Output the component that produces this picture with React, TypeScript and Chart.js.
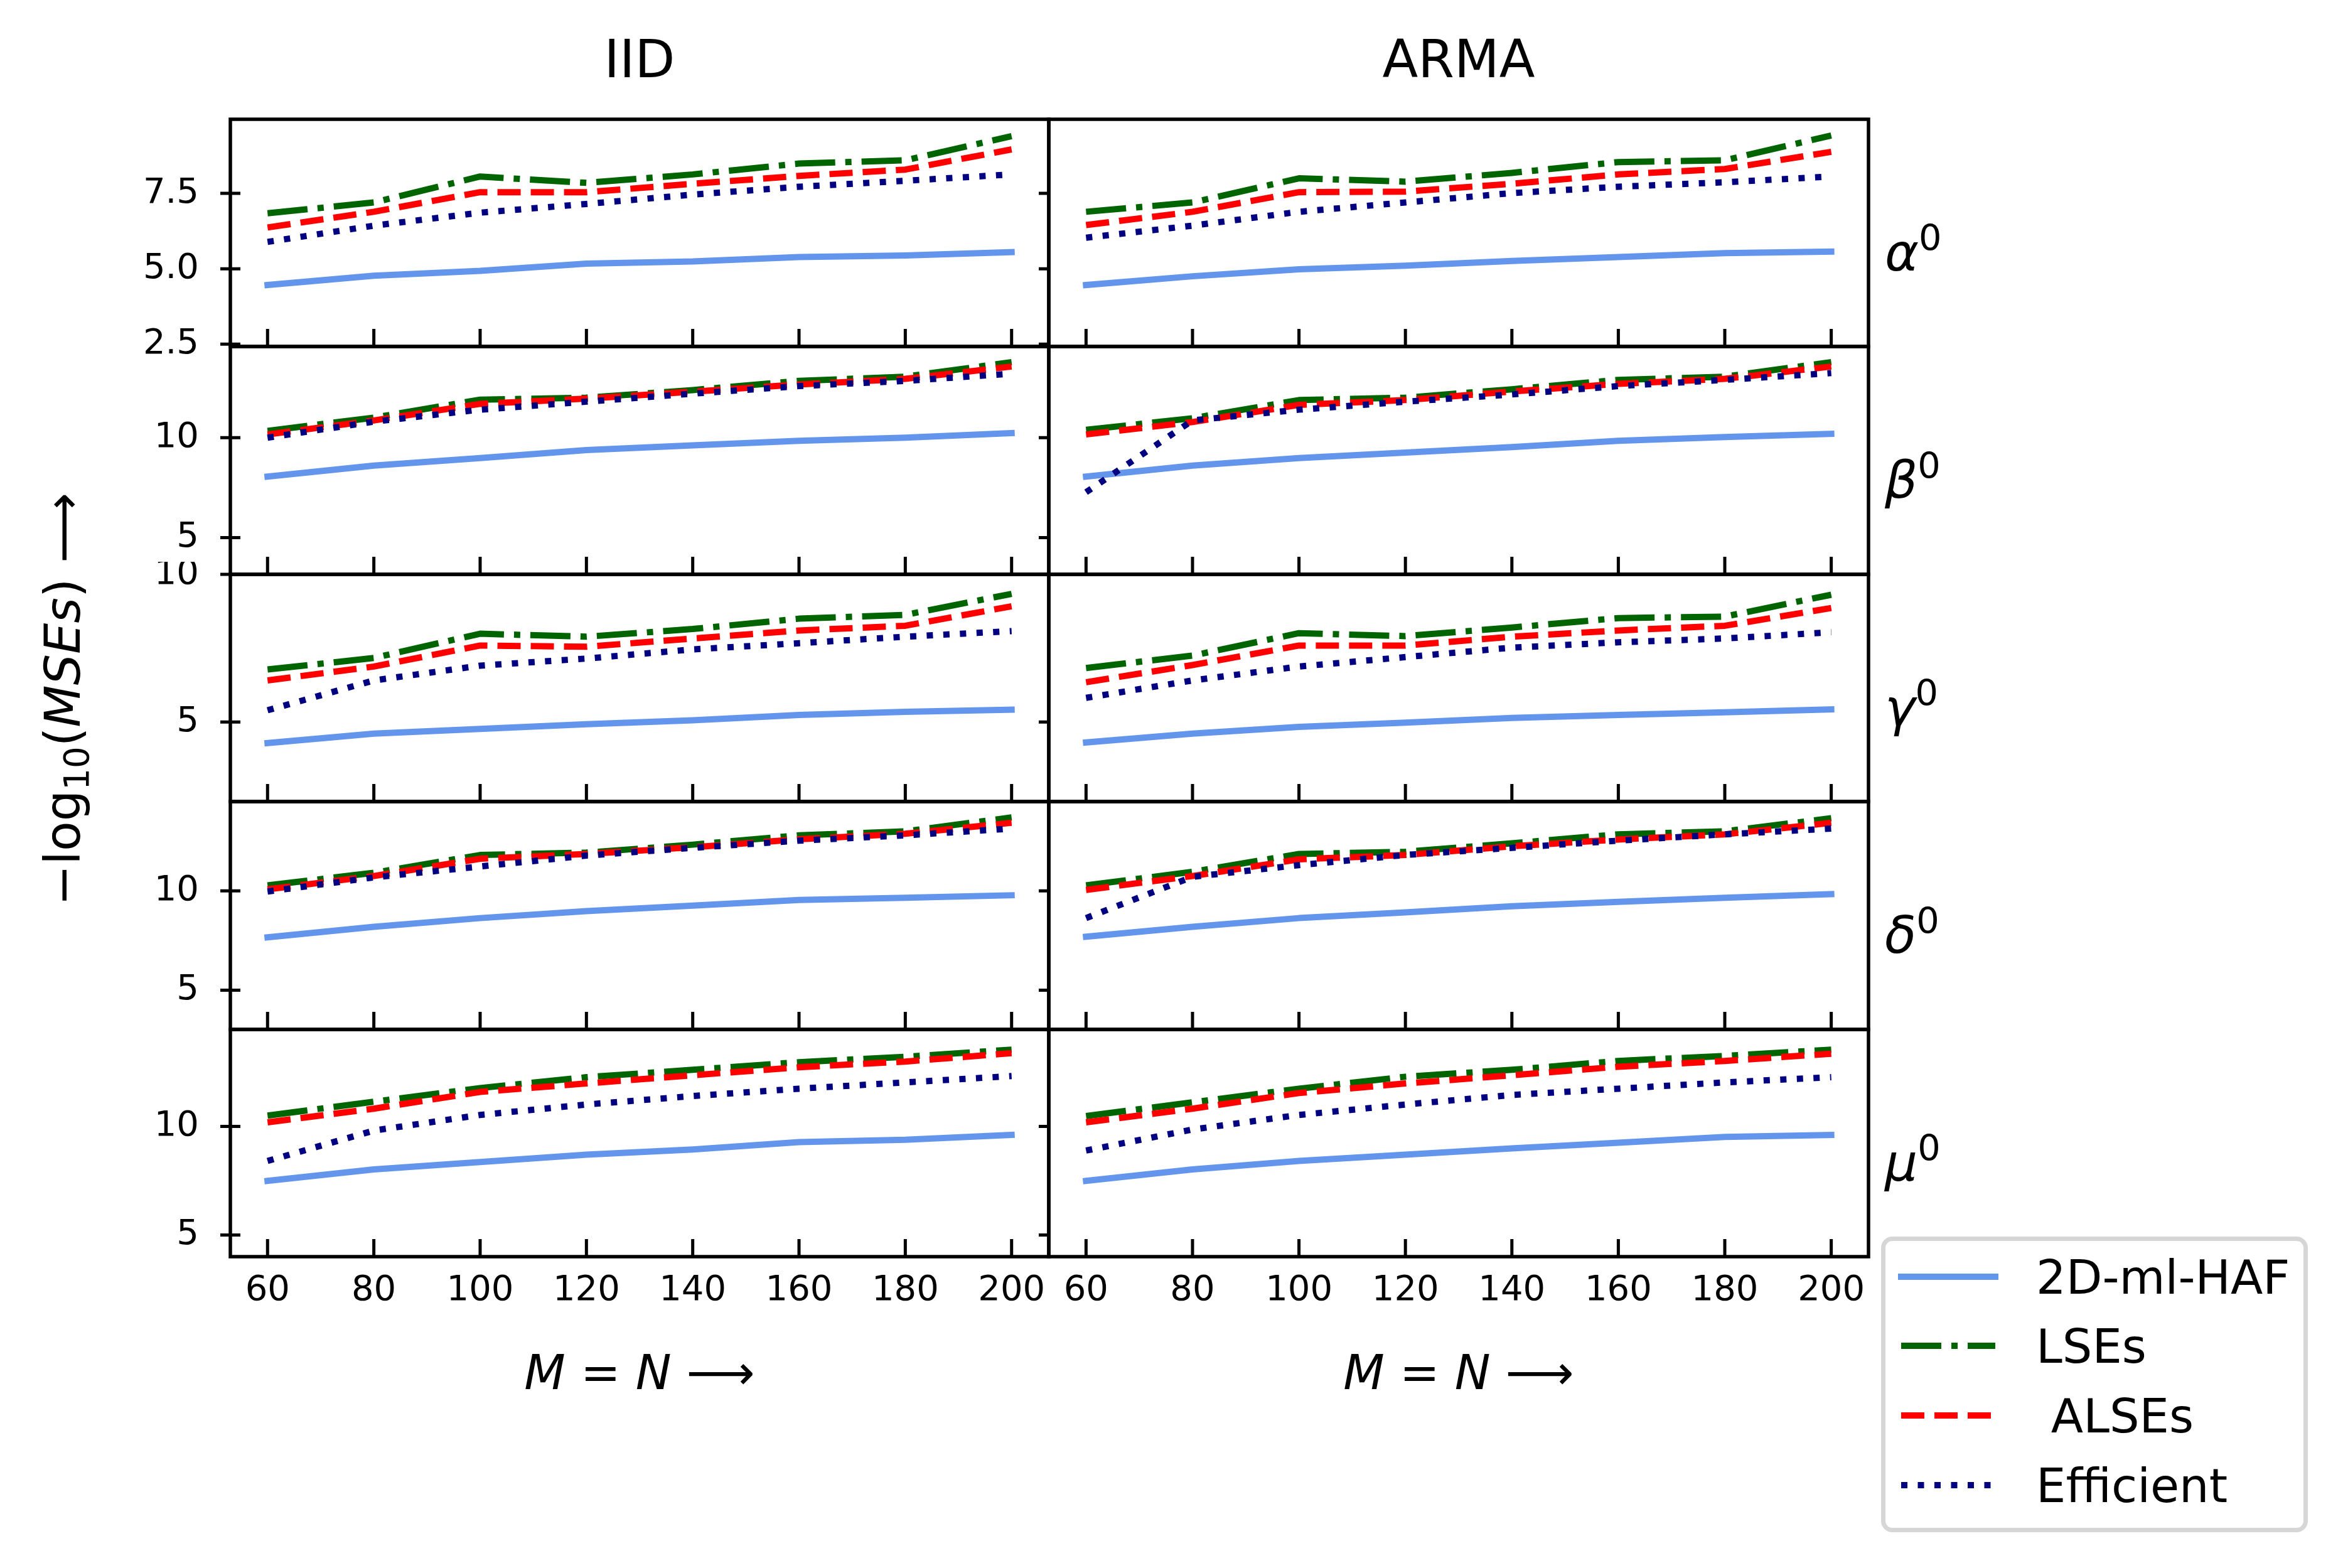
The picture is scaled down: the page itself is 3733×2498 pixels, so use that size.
import React, { useEffect, useRef } from 'react';
import Chart from 'chart.js/auto';

// sample sizes on the x axis
const sizes = [60, 80, 100, 120, 140, 160, 180, 200];

// -log10(MSE) values, IID errors
const iidAlphaHaf = [4.46, 4.77, 4.93, 5.17, 5.24, 5.39, 5.44, 5.55];
const iidAlphaLse = [6.84, 7.2, 8.06, 7.85, 8.13, 8.49, 8.6, 9.4];
const iidAlphaAlse = [6.37, 6.89, 7.54, 7.54, 7.82, 8.08, 8.29, 8.96];
const iidAlphaEff = [5.89, 6.43, 6.86, 7.15, 7.46, 7.72, 7.92, 8.13];

const iidBetaHaf = [8.05, 8.6, 8.98, 9.38, 9.61, 9.84, 10.0, 10.23];
const iidBetaLse = [10.34, 11.0, 11.9, 12.0, 12.38, 12.84, 13.05, 13.78];
const iidBetaAlse = [10.16, 10.86, 11.69, 11.95, 12.3, 12.66, 12.94, 13.56];
const iidBetaEff = [10.0, 10.8, 11.4, 11.8, 12.2, 12.58, 12.84, 13.2];

const iidGammaHaf = [4.29, 4.61, 4.77, 4.93, 5.06, 5.24, 5.35, 5.42];
const iidGammaLse = [6.78, 7.17, 7.99, 7.89, 8.15, 8.5, 8.63, 9.34];
const iidGammaAlse = [6.41, 6.88, 7.59, 7.55, 7.83, 8.1, 8.26, 8.92];
const iidGammaEff = [5.4, 6.41, 6.91, 7.15, 7.46, 7.67, 7.89, 8.08];

const iidDeltaHaf = [7.66, 8.19, 8.63, 8.98, 9.26, 9.54, 9.65, 9.78];
const iidDeltaLse = [10.28, 10.91, 11.81, 11.93, 12.33, 12.8, 13.0, 13.7];
const iidDeltaAlse = [10.08, 10.75, 11.62, 11.86, 12.2, 12.6, 12.88, 13.43];
const iidDeltaEff = [9.97, 10.68, 11.23, 11.78, 12.17, 12.53, 12.8, 13.14];

const iidMuHaf = [7.49, 8.02, 8.36, 8.7, 8.94, 9.28, 9.39, 9.61];
const iidMuLse = [10.5, 11.14, 11.77, 12.27, 12.61, 12.96, 13.21, 13.54];
const iidMuAlse = [10.19, 10.82, 11.59, 11.98, 12.36, 12.73, 12.99, 13.38];
const iidMuEff = [8.41, 9.81, 10.53, 11.01, 11.4, 11.74, 12.03, 12.32];

// -log10(MSE) values, ARMA errors
const armaAlphaHaf = [4.46, 4.75, 4.98, 5.1, 5.26, 5.39, 5.52, 5.57];
const armaAlphaLse = [6.89, 7.2, 8.0, 7.89, 8.18, 8.54, 8.6, 9.42];
const armaAlphaAlse = [6.45, 6.89, 7.54, 7.56, 7.82, 8.13, 8.31, 8.88];
const armaAlphaEff = [6.03, 6.43, 6.89, 7.2, 7.51, 7.72, 7.87, 8.06];

const armaBetaHaf = [8.05, 8.6, 8.98, 9.25, 9.53, 9.84, 10.03, 10.19];
const armaBetaLse = [10.39, 10.97, 11.88, 12.0, 12.42, 12.89, 13.05, 13.78];
const armaBetaAlse = [10.16, 10.78, 11.64, 11.88, 12.31, 12.69, 12.94, 13.56];
const armaBetaEff = [7.27, 10.86, 11.4, 11.8, 12.16, 12.58, 12.89, 13.23];

const armaGammaHaf = [4.31, 4.61, 4.84, 4.98, 5.14, 5.24, 5.33, 5.43];
const armaGammaLse = [6.83, 7.25, 8.01, 7.91, 8.2, 8.52, 8.57, 9.31];
const armaGammaAlse = [6.35, 6.93, 7.59, 7.59, 7.89, 8.1, 8.26, 8.86];
const armaGammaEff = [5.82, 6.41, 6.88, 7.2, 7.52, 7.7, 7.83, 8.04];

const armaDeltaHaf = [7.69, 8.19, 8.63, 8.92, 9.23, 9.45, 9.65, 9.84];
const armaDeltaLse = [10.28, 10.96, 11.86, 11.97, 12.4, 12.85, 13.0, 13.66];
const armaDeltaAlse = [10.05, 10.75, 11.59, 11.81, 12.25, 12.59, 12.85, 13.43];
const armaDeltaEff = [8.63, 10.71, 11.3, 11.81, 12.17, 12.53, 12.85, 13.14];

const armaMuHaf = [7.49, 8.02, 8.41, 8.7, 8.99, 9.25, 9.52, 9.61];
const armaMuLse = [10.48, 11.11, 11.74, 12.29, 12.61, 13.02, 13.25, 13.54];
const armaMuAlse = [10.19, 10.82, 11.54, 11.98, 12.36, 12.75, 13.02, 13.35];
const armaMuEff = [8.89, 9.86, 10.53, 11.01, 11.45, 11.74, 12.03, 12.27];

const seriesNames = ['2D-ml-HAF', 'LSEs', ' ALSEs', 'Efficient'];
const columnTitles = ['IID', 'ARMA'];
const rowSymbols = ['α', 'β', 'γ', 'δ', 'μ'];
const xTickValues = [60, 80, 100, 120, 140, 160, 180, 200];
const yTickValues = [[2.5, 5, 7.5], [5, 10], [5, 10], [5, 10], [5, 10]];
const yTickLabels = [['2.5', '5.0', '7.5'], ['5', '10'], ['5', '10'], ['5', '10'], ['5', '10']];
const yLimits = [[2.42, 9.96], [3.16, 14.56], [2.31, 10.0], [3.02, 14.5], [4.0, 14.47]];
const xLimits = [53, 207];

const panelSeries = [
  [
    [iidAlphaHaf, iidAlphaLse, iidAlphaAlse, iidAlphaEff],
    [iidBetaHaf, iidBetaLse, iidBetaAlse, iidBetaEff],
    [iidGammaHaf, iidGammaLse, iidGammaAlse, iidGammaEff],
    [iidDeltaHaf, iidDeltaLse, iidDeltaAlse, iidDeltaEff],
    [iidMuHaf, iidMuLse, iidMuAlse, iidMuEff],
  ],
  [
    [armaAlphaHaf, armaAlphaLse, armaAlphaAlse, armaAlphaEff],
    [armaBetaHaf, armaBetaLse, armaBetaAlse, armaBetaEff],
    [armaGammaHaf, armaGammaLse, armaGammaAlse, armaGammaEff],
    [armaDeltaHaf, armaDeltaLse, armaDeltaAlse, armaDeltaEff],
    [armaMuHaf, armaMuLse, armaMuAlse, armaMuEff],
  ],
];

const seriesColors = ['#6495ED', '#006400', '#FF0000', '#000080'];
const seriesDashes = [[], [64, 16, 10, 16], [37, 16], [10, 16.5]];
const LINE_W = 10;

// layout of the figure, in page pixels
const FONT = "'DejaVu Sans'";
const ROW_EDGES = [190, 552, 915, 1277, 1640, 2002];
const COL_EDGES = [367, 1671, 2977];
const Y_AXIS_W = 220;
const PAD = 20;
const TITLE_LINE = 100;
const TITLE_TOP = 6;
const TITLE_GAP = 39;
const X_AXIS_H = 260;

Chart.defaults.font.family = FONT;
Chart.defaults.color = '#000';

function panelBox(row: number, col: number) {
  const chartTop = ROW_EDGES[row];
  const chartH = ROW_EDGES[row + 1] - chartTop;
  const chartW = COL_EDGES[col + 1] - COL_EDGES[col];
  const above = PAD + (row === 0 ? TITLE_TOP + TITLE_LINE + TITLE_GAP : 0);
  const below = PAD + (row === 4 ? X_AXIS_H : 0);
  return {
    left: COL_EDGES[col] - Y_AXIS_W,
    top: chartTop - above,
    width: Y_AXIS_W + chartW + PAD,
    height: above + chartH + below,
  };
}

// spines and tick marks, drawn the matplotlib way
function framePlugin(col: number) {
  return {
    id: 'frame',
    afterDraw(chart: any) {
      const { ctx, chartArea: a, scales } = chart;
      ctx.save();
      ctx.strokeStyle = '#000';
      ctx.lineWidth = 5;
      ctx.beginPath();
      scales.x.ticks.forEach((t: any) => {
        const px = scales.x.getPixelForValue(t.value);
        ctx.moveTo(px, a.bottom);
        ctx.lineTo(px, a.bottom - 28);
      });
      scales.y.ticks.forEach((t: any) => {
        const py = scales.y.getPixelForValue(t.value);
        ctx.moveTo(a.left - 16, py);
        ctx.lineTo(a.left + (col === 0 ? 16 : 0), py);
      });
      ctx.stroke();
      ctx.lineWidth = 5.5;
      ctx.strokeRect(a.left, a.top, a.right - a.left, a.bottom - a.top);
      ctx.restore();
    },
  };
}

const Panel: React.FC<{ row: number; col: number }> = ({ row, col }) => {
  const canvasRef = useRef<HTMLCanvasElement | null>(null);
  const box = panelBox(row, col);

  useEffect(() => {
    if (!canvasRef.current) return;
    const chart = new Chart(canvasRef.current, {
      type: 'line',
      data: {
        datasets: panelSeries[col][row].map((vals, i) => ({
          label: seriesNames[i],
          data: sizes.map((x, j) => ({ x, y: vals[j] })),
          borderColor: seriesColors[i],
          backgroundColor: seriesColors[i],
          borderWidth: LINE_W,
          borderDash: seriesDashes[i],
          borderCapStyle: i === 0 ? 'square' : 'butt',
          borderJoinStyle: 'round',
          pointRadius: 0,
          tension: 0,
          fill: false,
          order: 3 - i,
        })),
      },
      options: {
        responsive: false,
        animation: false,
        devicePixelRatio: 1,
        events: [],
        layout: { padding: { left: 0, right: PAD, top: PAD, bottom: PAD } },
        plugins: {
          legend: { display: false },
          tooltip: { enabled: false },
          title: {
            display: row === 0,
            text: columnTitles[col],
            fullSize: false,
            color: '#000',
            font: { family: FONT, size: 83, weight: 'normal', lineHeight: TITLE_LINE + 'px' },
            padding: { top: TITLE_TOP, bottom: TITLE_GAP },
          },
        },
        scales: {
          x: {
            type: 'linear',
            min: xLimits[0],
            max: xLimits[1],
            grid: { display: false, drawTicks: false },
            border: { display: false },
            ticks: {
              display: row === 4,
              autoSkip: false,
              maxRotation: 0,
              padding: 21,
              color: '#000',
              font: { family: FONT, size: 56 },
            },
            title: {
              display: row === 4,
              text: 'M = N ⟶',
              color: '#000',
              font: { family: FONT, size: 76, style: 'italic' },
              padding: { top: 0, bottom: 23 },
            },
            afterBuildTicks: (s: any) => {
              s.ticks = xTickValues.map((v) => ({ value: v }));
            },
            afterFit: (s: any) => {
              s.height = row === 4 ? X_AXIS_H : 0;
              s.paddingLeft = 0;
              s.paddingRight = 0;
            },
          },
          y: {
            type: 'linear',
            min: yLimits[row][0],
            max: yLimits[row][1],
            grid: { display: false, drawTicks: false },
            border: { display: false },
            ticks: {
              display: col === 0,
              autoSkip: false,
              padding: 50,
              color: '#000',
              font: { family: FONT, size: 56 },
              callback: (value: any) => {
                const k = yTickValues[row].indexOf(Number(value));
                return k >= 0 ? yTickLabels[row][k] : '';
              },
            },
            afterBuildTicks: (s: any) => {
              s.ticks = yTickValues[row].map((v) => ({ value: v }));
            },
            afterFit: (s: any) => {
              s.width = Y_AXIS_W;
              s.paddingTop = 0;
              s.paddingBottom = 0;
            },
          },
        },
      } as any,
      plugins: [framePlugin(col)],
    });
    return () => chart.destroy();
  }, [row, col]);

  return (
    <canvas
      ref={canvasRef}
      width={box.width}
      height={box.height}
      style={{ position: 'absolute', left: box.left, top: box.top, width: box.width, height: box.height }}
    />
  );
};

// top of a one-line text block whose baseline should sit at y (DejaVu metrics)
const topForBaseline = (y: number, size: number) => y - size * 0.846;

const App: React.FC = () => {
  useEffect(() => {
    document.body.style.margin = '0';
  }, []);

  const legendRows = [2034, 2144, 2255, 2366];

  return (
    <div style={{ position: 'relative', width: 3733, height: 2498, background: '#fff', overflow: 'hidden', fontFamily: FONT }}>
      {[0, 1, 2, 3, 4].map((r) => [0, 1].map((c) => <Panel key={`${r}-${c}`} row={r} col={c} />))}

      <div
        style={{
          position: 'absolute',
          left: 100,
          top: 1114,
          transform: 'translate(-50%, -50%) rotate(-90deg)',
          whiteSpace: 'nowrap',
          fontSize: 78,
          lineHeight: 1,
        }}
      >
        −log
        <span style={{ fontSize: '0.7em', position: 'relative', top: '0.25em' }}>10</span>(
        <span style={{ fontStyle: 'italic' }}>MSEs</span>) ⟶
      </div>

      {rowSymbols.map((s, r) => {
        const center = (ROW_EDGES[r] + ROW_EDGES[r + 1]) / 2;
        return (
          <div
            key={s}
            style={{
              position: 'absolute',
              left: 3003,
              top: topForBaseline(center + 60, 82),
              fontSize: 82,
              lineHeight: 1,
              whiteSpace: 'nowrap',
            }}
          >
            <span style={{ fontStyle: 'italic' }}>{s}</span>
            <span style={{ fontSize: '0.7em', position: 'relative', top: '-0.55em' }}>0</span>
          </div>
        );
      })}

      <div
        style={{
          position: 'absolute',
          left: 2997,
          top: 1970,
          width: 680,
          height: 471,
          boxSizing: 'border-box',
          border: '7px solid #d6d6d6',
          borderRadius: 18,
        }}
      />
      {seriesNames.map((name, i) => (
        <React.Fragment key={name}>
          <svg
            width={180}
            height={20}
            style={{ position: 'absolute', left: 3014, top: legendRows[i] - 10 }}
          >
            <line
              x1={15}
              x2={165}
              y1={10}
              y2={10}
              stroke={seriesColors[i]}
              strokeWidth={LINE_W}
              strokeDasharray={seriesDashes[i].length ? seriesDashes[i].join(' ') : undefined}
              strokeLinecap={i === 0 ? 'square' : 'butt'}
            />
          </svg>
          <div
            style={{
              position: 'absolute',
              left: 3244,
              top: topForBaseline(legendRows[i] + 27.5, 75),
              fontSize: 75,
              lineHeight: 1,
              whiteSpace: 'pre',
            }}
          >
            {name}
          </div>
        </React.Fragment>
      ))}
    </div>
  );
};

export default App;
